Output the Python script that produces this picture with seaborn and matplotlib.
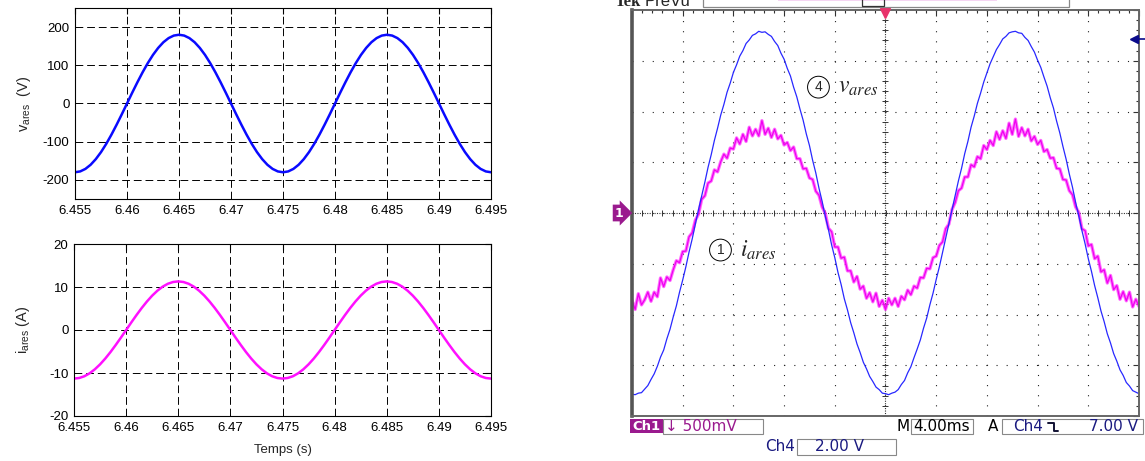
import numpy as np
import matplotlib
matplotlib.use("Agg")
import matplotlib.pyplot as plt
import seaborn as sns
from matplotlib.patches import Rectangle
from matplotlib.lines import Line2D

# -------------------- DATA --------------------

# simulation (left panels): time base 6.455 .. 6.495 s, 0.5 ms step
sim_t = np.linspace(6.455, 6.495, 81)
v_ares = [
    -180, -177.8, -171.2, -160.4, -145.6, -127.3, -105.8, -81.7, -55.6, -28.2,
    0, 28.2, 55.6, 81.7, 105.8, 127.3, 145.6, 160.4, 171.2, 177.8,
    180, 177.8, 171.2, 160.4, 145.6, 127.3, 105.8, 81.7, 55.6, 28.2,
    0, -28.2, -55.6, -81.7, -105.8, -127.3, -145.6, -160.4, -171.2, -177.8,
    -180, -177.8, -171.2, -160.4, -145.6, -127.3, -105.8, -81.7, -55.6, -28.2,
    0, 28.2, 55.6, 81.7, 105.8, 127.3, 145.6, 160.4, 171.2, 177.8,
    180, 177.8, 171.2, 160.4, 145.6, 127.3, 105.8, 81.7, 55.6, 28.2,
    0, -28.2, -55.6, -81.7, -105.8, -127.3, -145.6, -160.4, -171.2, -177.8,
    -180]
i_ares = [
    -11.3, -11.16, -10.75, -10.07, -9.14, -7.99, -6.64, -5.13, -3.49, -1.77,
    0, 1.77, 3.49, 5.13, 6.64, 7.99, 9.14, 10.07, 10.75, 11.16,
    11.3, 11.16, 10.75, 10.07, 9.14, 7.99, 6.64, 5.13, 3.49, 1.77,
    0, -1.77, -3.49, -5.13, -6.64, -7.99, -9.14, -10.07, -10.75, -11.16,
    -11.3, -11.16, -10.75, -10.07, -9.14, -7.99, -6.64, -5.13, -3.49, -1.77,
    0, 1.77, 3.49, 5.13, 6.64, 7.99, 9.14, 10.07, 10.75, 11.16,
    11.3, 11.16, 10.75, 10.07, 9.14, 7.99, 6.64, 5.13, 3.49, 1.77,
    0, -1.77, -3.49, -5.13, -6.64, -7.99, -9.14, -10.07, -10.75, -11.16,
    -11.3]
sim_xticks = [6.455, 6.46, 6.465, 6.47, 6.475, 6.48, 6.485, 6.49, 6.495]
sim_xticklabels = ["6.455", "6.46", "6.465", "6.47", "6.475", "6.48", "6.485", "6.49", "6.495"]
v_yticks = [-200, -100, 0, 100, 200]
i_yticks = [-20, -10, 0, 10, 20]

# oscilloscope (right panel): time in ms around trigger, values in divisions, 0.25 ms step
scope_t = np.linspace(-20, 20, 161)
scope_ch4 = [
    -3.57, -3.58, -3.55, -3.54, -3.47, -3.40, -3.28, -3.17, -3.02, -2.84,
    -2.70, -2.48, -2.29, -2.05, -1.83, -1.56, -1.32, -1.06, -0.77, -0.51,
    -0.22, 0.07, 0.34, 0.61, 0.90, 1.15, 1.43, 1.67, 1.93, 2.14,
    2.38, 2.56, 2.77, 2.92, 3.09, 3.20, 3.34, 3.41, 3.50, 3.53,
    3.58, 3.56, 3.57, 3.52, 3.48, 3.38, 3.30, 3.15, 3.03, 2.85,
    2.70, 2.48, 2.29, 2.05, 1.83, 1.56, 1.33, 1.04, 0.79, 0.49,
    0.23, -0.07, -0.33, -0.63, -0.88, -1.17, -1.41, -1.69, -1.91, -2.16,
    -2.36, -2.58, -2.75, -2.94, -3.07, -3.22, -3.32, -3.43, -3.48, -3.55,
    -3.56, -3.58, -3.55, -3.53, -3.48, -3.38, -3.30, -3.15, -3.03, -2.85,
    -2.68, -2.50, -2.27, -2.07, -1.81, -1.58, -1.31, -1.06, -0.78, -0.49,
    -0.23, 0.07, 0.33, 0.63, 0.88, 1.17, 1.41, 1.69, 1.91, 2.16,
    2.36, 2.58, 2.76, 2.94, 3.08, 3.22, 3.32, 3.43, 3.48, 3.55,
    3.57, 3.58, 3.55, 3.54, 3.46, 3.40, 3.28, 3.17, 3.01, 2.87,
    2.68, 2.50, 2.27, 2.07, 1.81, 1.58, 1.31, 1.06, 0.77, 0.51,
    0.21, -0.06, -0.35, -0.61, -0.90, -1.15, -1.43, -1.67, -1.93, -2.14,
    -2.38, -2.56, -2.77, -2.92, -3.09, -3.20, -3.34, -3.41, -3.50, -3.53,
    -3.56]
scope_ch1 = [
    -1.72, -1.90, -1.59, -1.81, -1.71, -1.56, -1.74, -1.56, -1.65, -1.28,
    -1.45, -1.26, -1.33, -1.12, -0.94, -0.98, -0.76, -0.75, -0.47, -0.39,
    -0.14, -0.02, 0.27, 0.34, 0.59, 0.63, 0.85, 0.81, 1.01, 1.16,
    1.08, 1.28, 1.26, 1.48, 1.36, 1.55, 1.41, 1.69, 1.52, 1.65,
    1.52, 1.82, 1.55, 1.67, 1.49, 1.65, 1.46, 1.53, 1.34, 1.39,
    1.23, 1.30, 1.07, 1.07, 0.87, 0.88, 0.69, 0.66, 0.43, 0.35,
    0.12, -0.01, -0.30, -0.37, -0.67, -0.67, -0.89, -0.87, -1.14, -1.14,
    -1.36, -1.25, -1.50, -1.44, -1.68, -1.57, -1.75, -1.58, -1.84, -1.72,
    -1.90, -1.68, -1.81, -1.68, -1.84, -1.64, -1.71, -1.52, -1.61, -1.44,
    -1.48, -1.27, -1.28, -1.09, -1.10, -0.88, -0.85, -0.64, -0.57, -0.31,
    -0.22, 0.07, 0.21, 0.44, 0.49, 0.71, 0.71, 0.95, 0.91, 1.11,
    1.07, 1.33, 1.25, 1.43, 1.33, 1.60, 1.45, 1.62, 1.47, 1.77,
    1.55, 1.85, 1.51, 1.68, 1.52, 1.65, 1.42, 1.51, 1.35, 1.43,
    1.21, 1.25, 1.08, 1.09, 0.88, 0.87, 0.66, 0.65, 0.44, 0.36,
    0.12, 0.01, -0.31, -0.35, -0.65, -0.62, -0.90, -0.85, -1.16, -1.12,
    -1.38, -1.23, -1.51, -1.43, -1.70, -1.55, -1.73, -1.56, -1.85, -1.70,
    -1.84]

# -------------------- STYLE --------------------
sns.set_style("white")
plt.rcParams["font.family"] = ["Liberation Sans", "DejaVu Sans"]
plt.rcParams["axes.unicode_minus"] = False

W, H = 1145, 461
fig = plt.figure(figsize=(W / 100, H / 100), dpi=100)


def fx(x):
    return x / W


def fy(y):
    return 1 - y / H


def px_box(x0, y0, x1, y1):
    return [fx(x0), fy(y1), (x1 - x0) / W, (y1 - y0) / H]


def px_rect(x0, y0, x1, y1, **kw):
    fig.add_artist(Rectangle((fx(x0), fy(y1)), (x1 - x0) / W, (y1 - y0) / H,
                             transform=fig.transFigure, **kw))


ax_v = fig.add_axes(px_box(75, 8, 491, 199))
ax_i = fig.add_axes(px_box(74, 244, 491, 416))
ax_s = fig.add_axes(px_box(632, 10, 1139, 416))

# -------------------- LEFT: SIMULATION --------------------
sns.lineplot(x=sim_t, y=v_ares, ax=ax_v, color="#0a0aff", linewidth=1.8)
sns.lineplot(x=sim_t, y=i_ares, ax=ax_i, color="#ff10ff", linewidth=1.8)

ax_v.set_ylim(-250, 250)
ax_v.set_yticks(v_yticks)
ax_i.set_ylim(-20, 20)
ax_i.set_yticks(i_yticks)
for ax in (ax_v, ax_i):
    ax.set_xlim(6.455, 6.495)
    ax.set_xticks(sim_xticks)
    ax.set_xticklabels(sim_xticklabels)
    ax.set_axisbelow(True)
    ax.grid(True, color="black", linestyle=(0, (8, 4)), linewidth=0.7)
    ax.tick_params(direction="in", length=4, top=True, right=True,
                   labelsize=9.5, pad=4, colors="black")
    for s in ax.spines.values():
        s.set_color("black")
        s.set_linewidth(0.8)

ax_v.set_ylabel(r"$\mathregular{v_{ares}}$  (V)", fontsize=10.5)
ax_v.yaxis.set_label_coords(-0.10, 0.5)
ax_i.set_ylabel(r"$\mathregular{i_{ares}}$ (A)", fontsize=10.5)
ax_i.yaxis.set_label_coords(-0.10, 0.5)
ax_i.set_xlabel("Temps (s)", fontsize=9.5)
ax_i.xaxis.set_label_coords(0.5, -0.16)

# -------------------- RIGHT: OSCILLOSCOPE --------------------
sns.lineplot(x=scope_t, y=scope_ch1, ax=ax_s, color="#ff30ff", linewidth=2.4, alpha=0.7)
sns.lineplot(x=scope_t, y=scope_ch1, ax=ax_s, color="#f000f0", linewidth=0.9)
sns.lineplot(x=scope_t, y=scope_ch4, ax=ax_s, color="#2828ff", linewidth=0.9)

ax_s.set_xlim(-20, 20)
ax_s.set_ylim(-4, 4)
ax_s.set_xticks(np.arange(-20, 21, 4))
ax_s.set_yticks(np.arange(-4, 5, 1))
ax_s.set_xticks(np.arange(-20, 20.01, 0.8), minor=True)
ax_s.set_yticks(np.arange(-4, 4.001, 0.2), minor=True)
ax_s.tick_params(which="both", direction="in", labelbottom=False, labelleft=False,
                 top=True, right=True, color="#333333", width=0.8)
ax_s.tick_params(which="major", length=4)
ax_s.tick_params(which="minor", length=2)
ax_s.set_axisbelow(True)
ax_s.grid(True, which="major", color="#222222", linestyle=(0, (1, 8.1)), linewidth=0.8)
for s in ax_s.spines.values():
    s.set_color("#666666")
    s.set_linewidth(1.4)
ax_s.spines["left"].set_linewidth(2.6)
ax_s.spines["left"].set_color("#555555")

# centre crosshair with fine graduations
ax_s.axhline(0, color="#333333", linestyle=(0, (1, 1.2)), linewidth=0.8, zorder=1)
ax_s.axvline(0, color="#333333", linestyle=(0, (1, 1.2)), linewidth=0.8, zorder=1)
grad_x = np.arange(-20, 20.01, 0.8)
grad_y = np.arange(-4, 4.001, 0.2)
ax_s.plot(grad_x, np.zeros_like(grad_x), ls="none", marker="|", ms=4, mew=0.7, color="#333333", zorder=1)
ax_s.plot(np.zeros_like(grad_y), grad_y, ls="none", marker="_", ms=4, mew=0.7, color="#333333", zorder=1)

# trigger position and level markers
ax_s.plot([0], [3.95], marker="v", ms=7, color="#e8336b", clip_on=False, zorder=5)
ax_s.plot([19.6], [3.43], marker="<", ms=6, color="#0a0a8a", clip_on=False, zorder=5)
ax_s.plot([19.8, 20.5], [3.43, 3.43], color="#0a0a8a", lw=1.2, clip_on=False, zorder=5)

# channel annotations
ax_s.text(-5.29, 2.48, "4", fontsize=10, ha="center", va="center",
          bbox=dict(boxstyle="circle,pad=0.28", fc="white", ec="black", lw=0.7))
ax_s.text(-3.75, 2.48, r"$v_{ares}$", fontsize=17, ha="left", va="center", math_fontfamily="stix")
ax_s.text(-13.02, -0.73, "1", fontsize=10, ha="center", va="center",
          bbox=dict(boxstyle="circle,pad=0.28", fc="white", ec="black", lw=0.7))
ax_s.text(-11.5, -0.73, r"$i_{ares}$", fontsize=17, ha="left", va="center", math_fontfamily="stix")

# ch1 ground marker
fig.text(fx(619), fy(213), "1", color="white", fontsize=9, fontweight="bold",
         ha="center", va="center", family="DejaVu Sans",
         bbox=dict(boxstyle="rarrow,pad=0.15", fc="#9a1a8e", ec="none"))

# top header (cut off by the frame like in the screenshot)
fig.text(fx(615), fy(6), "Tek", fontsize=12, fontweight="bold", family="Liberation Serif", va="baseline")
fig.text(fx(645), fy(6), "PreVu", fontsize=12, family="Liberation Sans", va="baseline")
px_rect(703, -10, 1069, 7, fc="white", ec="#888888", lw=0.9)
px_rect(778, -5, 997, 1, fc="#f5d6f2", ec="none")
px_rect(862, -10, 884, 6, fc="none", ec="#333333", lw=0.9)

# status bar
status_font = dict(family="DejaVu Sans", fontsize=11, va="center")
px_rect(630, 419, 663, 433, fc="#9a1a8e", ec="none")
fig.text(fx(646.5), fy(426.5), "Ch1", color="white", fontweight="bold", ha="center",
         family="DejaVu Sans", fontsize=9.5, va="center")
px_rect(663, 419, 763, 434, fc="none", ec="#888888", lw=0.8)
fig.text(fx(665), fy(426.5), "\u2193 500mV", color="#9a1a8e", **status_font)
fig.text(fx(897), fy(426.5), "M", color="black", **status_font)
px_rect(911, 419, 973, 434, fc="none", ec="#888888", lw=0.8)
fig.text(fx(913), fy(426.5), "4.00ms", color="black", **status_font)
fig.text(fx(988), fy(426.5), "A", color="black", **status_font)
px_rect(1002, 419, 1143, 434, fc="none", ec="#888888", lw=0.8)
fig.text(fx(1013), fy(426.5), "Ch4", color="#1a1a80", **status_font)
fig.add_artist(Line2D([fx(1048), fx(1054), fx(1054), fx(1058)],
                      [fy(423), fy(423), fy(431), fy(431)],
                      transform=fig.transFigure, color="#111133", lw=1.4))
fig.text(fx(1089), fy(426.5), "7.00 V", color="#1a1a80", **status_font)
fig.text(fx(765), fy(446.5), "Ch4", color="#1a1a80", **status_font)
px_rect(797, 439, 896, 455, fc="none", ec="#888888", lw=0.8)
fig.text(fx(815), fy(446.5), "2.00 V", color="#1a1a80", **status_font)

fig.savefig("out.png", dpi=100)
